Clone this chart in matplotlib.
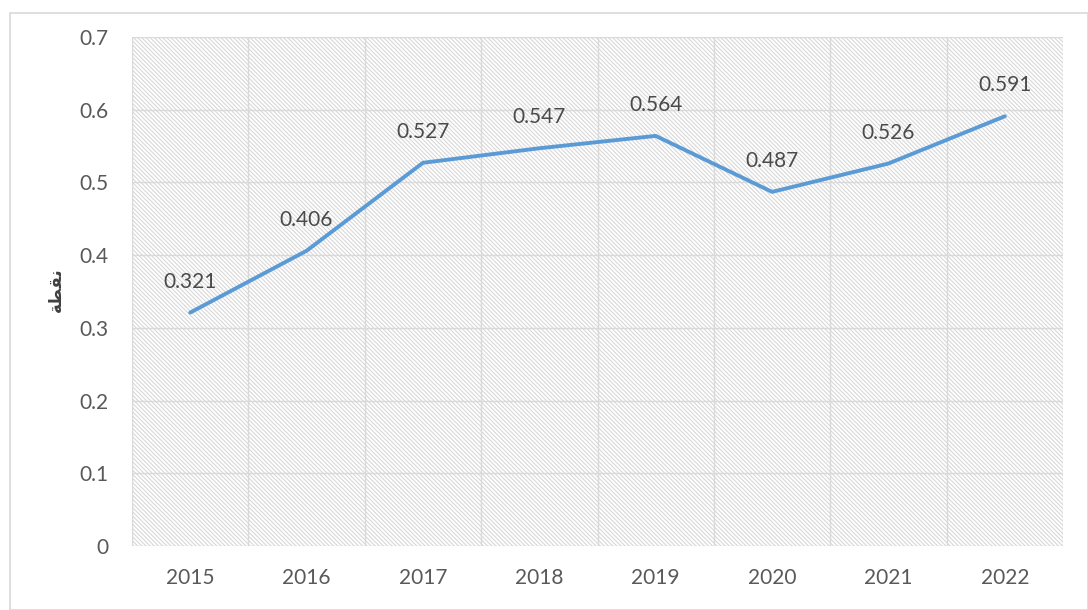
import matplotlib
matplotlib.use("Agg")
import matplotlib.pyplot as plt
from matplotlib.patches import Rectangle

years = ["2015", "2016", "2017", "2018", "2019", "2020", "2021", "2022"]
values = [0.321, 0.406, 0.527, 0.547, 0.564, 0.487, 0.526, 0.591]
yticks = [0, 0.1, 0.2, 0.3, 0.4, 0.5, 0.6, 0.7]
ylabel = "\uFE94\uFEC4\uFED8\uFEE7"  # نقطة (shaped, visual order)

plt.rcParams['font.family'] = ['Lato', 'DejaVu Sans']
plt.rcParams['hatch.linewidth'] = 0.8

fig = plt.figure(figsize=(10.88, 6.10), dpi=100)
fig.patches.append(Rectangle((10/1088, 0), 1 - 10/1088, 1 - 13/610,
                             transform=fig.transFigure, fill=False,
                             edgecolor="#d9d9d9", linewidth=1.2))
ax = fig.add_axes([132/1088, 1 - 546/610, (1063-132)/1088, (546-37)/610])

x = list(range(len(years)))
ax.set_xlim(-0.5, len(years) - 0.5)
ax.set_ylim(0, 0.7)

ax.add_patch(Rectangle((0, 0), 1, 1, transform=ax.transAxes, facecolor="white",
                       edgecolor="#d8d8d8", hatch="\\\\\\\\\\\\\\\\", linewidth=0, zorder=0))
for yv in yticks:
    ax.axhline(yv, color="#d9d9d9", linewidth=1.0, zorder=1)
for b in range(len(years) + 1):
    ax.axvline(b - 0.5, color="#d9d9d9", linewidth=1.0, zorder=1)

ax.plot(x, values, color="#5B9BD5", linewidth=2.8, zorder=3, solid_capstyle="round")
for xi, v in zip(x, values):
    ax.annotate(f"{v:.3f}", (xi, v), xytext=(0, 15), textcoords="offset points",
                ha="center", va="bottom", fontsize=15, color="#4a4a4a", zorder=4)

ax.set_xticks(x)
ax.set_xticklabels(years)
ax.set_yticks(yticks)
ax.set_yticklabels([f"{t:g}" for t in yticks])
ax.tick_params(axis="both", length=0, labelsize=15, labelcolor="#595959")
ax.tick_params(axis="x", pad=16)
ax.tick_params(axis="y", pad=17)
for s in ax.spines.values():
    s.set_visible(False)

fig.text(56/1088, 1 - 290/610, ylabel, rotation=90, ha="center", va="center",
         fontsize=12, fontweight="bold", color="#404040", family="DejaVu Sans")

fig.savefig("out.png", dpi=100)
